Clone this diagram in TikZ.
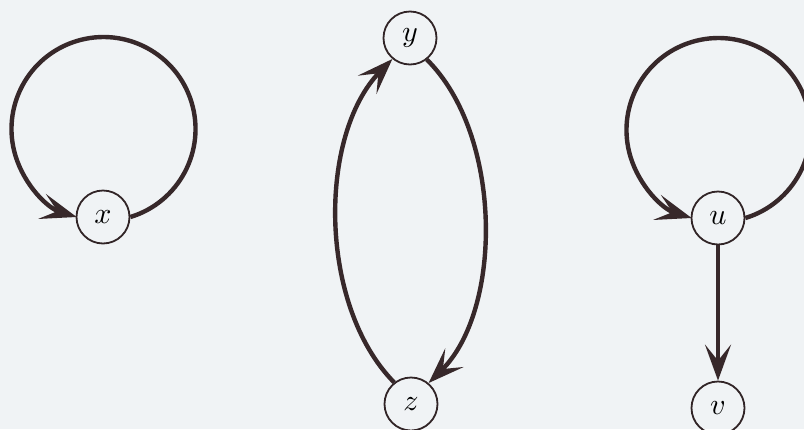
\documentclass[tikz,border=0pt]{standalone}
\usetikzlibrary{arrows.meta}
\definecolor{bg}{RGB}{240,243,245}
\definecolor{ink}{RGB}{55,40,42}
\newcommand{\vlbl}[1]{\scalebox{3}{$#1$}}
\begin{document}
\begin{tikzpicture}[x=1pt,y=-1pt,
  vert/.style={circle,draw=ink!90!black,line width=1.8pt,minimum size=53pt,inner sep=0pt},
  edge/.style={draw=ink,line width=4.4pt,-{Stealth[length=36pt,width=26pt,inset=16pt]}}]
\fill[bg] (0,0) rectangle (804,429);
\useasboundingbox (0,0) rectangle (804,429);
\node[vert] (x) at (103,217) {\vlbl{x}};
\node[vert] (y) at (410,38) {\vlbl{y}};
\node[vert] (z) at (411,404) {\vlbl{z}};
\node[vert] (u) at (718,218) {\vlbl{u}};
\node[vert] (v) at (718,408) {\vlbl{v}};
\draw[edge] (x.east) arc[start angle=73,end angle=-253,radius=92];
\draw[edge] (u.east) arc[start angle=73,end angle=-253,radius=92];
\draw[edge] (y.-52) .. controls (503,135) and (503,310) .. (z.50);
\draw[edge] (z.128) .. controls (318,305) and (318,135) .. (y.-130);
\draw[edge] (u.south) -- (v.north);
\end{tikzpicture}
\end{document}
